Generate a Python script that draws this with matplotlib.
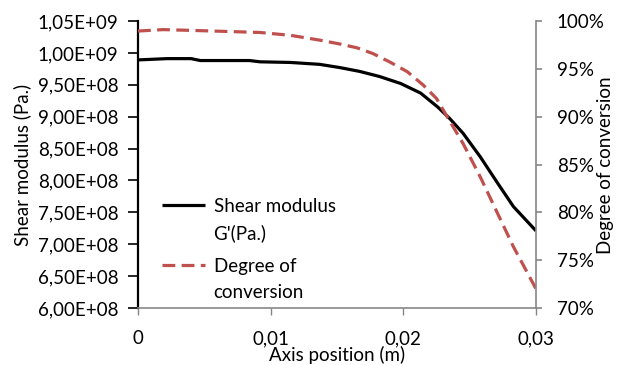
import matplotlib
matplotlib.use("Agg")
import numpy as np
import matplotlib.pyplot as plt
from matplotlib.ticker import FuncFormatter, MultipleLocator
from matplotlib.legend_handler import HandlerLine2D

plt.rcParams['font.family'] = ['Lato', 'DejaVu Sans']

# Data
pos_g = [0.0, 0.0022, 0.0040, 0.0047, 0.0084, 0.0092, 0.0115, 0.0137, 0.0152,
         0.0167, 0.0182, 0.0198, 0.0213, 0.0226, 0.0235, 0.0245, 0.0258,
         0.0271, 0.0283, 0.0300]
shear_modulus = [9.89e8, 9.91e8, 9.91e8, 9.88e8, 9.88e8, 9.86e8, 9.85e8, 9.82e8, 9.77e8,
                 9.71e8, 9.63e8, 9.52e8, 9.37e8, 9.15e8, 8.97e8, 8.74e8, 8.37e8,
                 7.96e8, 7.59e8, 7.21e8]

pos_c = [0.0, 0.0019, 0.0045, 0.0069, 0.0092, 0.0115, 0.0137, 0.0152, 0.0165,
         0.0177, 0.0190, 0.0203, 0.0215, 0.0225, 0.0233, 0.0245, 0.0258, 0.0271,
         0.0283, 0.0300]
conversion = [98.95, 99.1, 99.0, 98.9, 98.8, 98.5, 98.0, 97.6, 97.2,
              96.6, 95.7, 94.7, 93.3, 91.9, 90.0, 87.2, 83.7, 79.9,
              76.4, 72.0]

red = '#C0504D'
grey = '#868686'
fs = 13.5


class FirstLineHandler(HandlerLine2D):
    def __init__(self, shift, **kw):
        super().__init__(**kw)
        self.shift = shift

    def create_artists(self, legend, orig_handle, xdescent, ydescent, width,
                       height, fontsize, trans):
        arts = super().create_artists(legend, orig_handle, xdescent, ydescent,
                                      width, height, fontsize, trans)
        for a in arts:
            a.set_ydata(np.asarray(a.get_ydata(), dtype=float) + self.shift * fontsize)
        return arts


fig = plt.figure(figsize=(6.19, 3.65), dpi=100)
ax = fig.add_axes([138/619, 57/365, 398/619, 287/365])
ax2 = ax.twinx()

l1, = ax.plot(pos_g, shear_modulus, color='black', lw=2.3, solid_capstyle='butt')
l2, = ax2.plot(pos_c, conversion, color=red, lw=2.3, ls=(0, (4, 2)), dash_capstyle='butt')

ax.set_xlim(0, 0.03)
ax.set_ylim(6.0e8, 10.5e8)
ax.yaxis.set_major_locator(MultipleLocator(0.5e8))
ax.xaxis.set_major_locator(MultipleLocator(0.01))
ax2.set_ylim(70, 100)
ax2.yaxis.set_major_locator(MultipleLocator(5))

ax.yaxis.set_major_formatter(FuncFormatter(lambda v, p: '{:.2E}'.format(v).replace('.', ',')))
ax.xaxis.set_major_formatter(FuncFormatter(lambda v, p: '0' if abs(v) < 1e-12 else '{:.2f}'.format(v).replace('.', ',')))
ax2.yaxis.set_major_formatter(FuncFormatter(lambda v, p: '{:.0f}%'.format(v)))

for a in (ax, ax2):
    a.spines['top'].set_visible(False)
ax.spines['right'].set_visible(False)
ax2.spines['left'].set_visible(False)
ax2.spines['bottom'].set_visible(False)
ax.spines['left'].set_color('black')
ax.spines['left'].set_linewidth(1.6)
ax.spines['bottom'].set_color(grey)
ax.spines['bottom'].set_linewidth(1.2)
ax2.spines['right'].set_color(grey)
ax2.spines['right'].set_linewidth(1.2)

ax.tick_params(axis='y', direction='out', length=7, width=1.2, color='black', pad=7, labelsize=fs)
ax.tick_params(axis='x', direction='out', length=5, width=1.0, color=grey, pad=11, labelsize=fs)
ax2.tick_params(axis='y', direction='out', length=4, width=1.2, color=grey, pad=11, labelsize=fs)

fig.text(22/619, 1 - 165/365, 'Shear modulus (Pa.)', rotation=90, ha='center', va='center', fontsize=fs)
fig.text(605/619, 1 - 165/365, 'Degree of conversion', rotation=90, ha='center', va='center', fontsize=fs)
fig.text(337/619, 1 - 355/365, 'Axis position (m)', ha='center', va='center', fontsize=fs)

leg = ax.legend([l1, l2], ["Shear modulus\nG'(Pa.)", "Degree of\nconversion"],
                loc='upper left', bbox_to_anchor=(162/619, 1 - 198/365),
                bbox_transform=fig.transFigure, frameon=False, fontsize=fs,
                handlelength=2.3, handletextpad=0.45, labelspacing=0.87,
                borderaxespad=0, borderpad=0,
                handler_map={l1: FirstLineHandler(0.8), l2: FirstLineHandler(0.8)})
for t in leg.get_texts():
    t.set_linespacing(1.6)

fig.savefig('out.png', dpi=100)
